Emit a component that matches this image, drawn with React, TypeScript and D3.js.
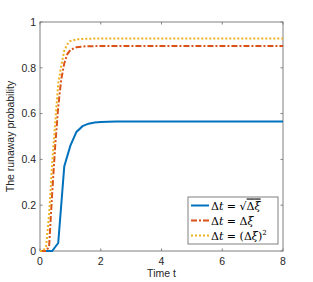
import React from 'react';
import * as d3 from 'd3';

// runaway probability vs time, three step choices
const tSqrt = [0, 0.2, 0.4, 0.6, 0.8, 1.0, 1.2, 1.4, 1.6, 1.8, 2.0, 2.5, 3.0, 4.0, 5.0, 6.0, 7.0, 8.0];
const pSqrt = [0, 0, 0, 0.035, 0.37, 0.46, 0.52, 0.545, 0.556, 0.561, 0.563, 0.565, 0.566, 0.566, 0.566, 0.566, 0.566, 0.566];

const tLin = [0, 0.1, 0.2, 0.3, 0.4, 0.5, 0.6, 0.7, 0.8, 0.9, 1.0, 1.2, 1.5, 2.0, 3.0, 4.0, 5.0, 6.0, 7.0, 8.0];
const pLin = [0, 0, 0, 0.02, 0.25, 0.46, 0.63, 0.75, 0.82, 0.86, 0.878, 0.89, 0.894, 0.895, 0.895, 0.895, 0.895, 0.895, 0.895, 0.895];

const tSq = [0, 0.1, 0.2, 0.3, 0.4, 0.5, 0.6, 0.7, 0.8, 0.9, 1.0, 1.2, 1.5, 2.0, 3.0, 4.0, 5.0, 6.0, 7.0, 8.0];
const pSq = [0, 0, 0.02, 0.16, 0.38, 0.56, 0.73, 0.81, 0.875, 0.903, 0.917, 0.924, 0.927, 0.928, 0.928, 0.928, 0.928, 0.928, 0.928, 0.928];

const xTicks = [0, 2, 4, 6, 8];
const yTicks = [0, 0.2, 0.4, 0.6, 0.8, 1];

const width = 313;
const height = 282;
const margin = { top: 22, right: 30, bottom: 31, left: 40 };

const App: React.FC = () => {
  const x = d3.scaleLinear().domain([0, 8]).range([margin.left, width - margin.right]);
  const y = d3.scaleLinear().domain([0, 1]).range([height - margin.bottom, margin.top]);

  const line = d3.line<[number, number]>()
    .x(d => x(d[0]))
    .y(d => y(d[1]));

  const zip = (a: number[], b: number[]) => a.map((v, i) => [v, b[i]] as [number, number]);

  const series = [
    { name: 'sqrt', d: zip(tSqrt, pSqrt), color: '#0072BD', dash: undefined as string | undefined },
    { name: 'lin', d: zip(tLin, pLin), color: '#D95319', dash: '6,2,2,2' },
    { name: 'sq', d: zip(tSq, pSq), color: '#EDB120', dash: '2,2' },
  ];

  const axisColor = '#808080';
  const x0 = x(0), x1 = x(8), y0 = y(0), y1 = y(1);
  const tickLen = 2.5;
  const sans = 'Liberation Sans, Arial, sans-serif';

  // legend box
  const lg = { x: 188, y: 197, w: 90, h: 47 };
  const rowY = [205.5, 220.5, 235.5];

  return (
    <svg width={width} height={height} style={{ position: 'absolute', left: 0, top: 0, background: '#fff' }}>
      <rect x={0} y={0} width={width} height={height} fill="#fff" />

      {/* axis box */}
      <rect x={x0} y={y1} width={x1 - x0} height={y0 - y1} fill="none" stroke={axisColor} strokeWidth={1} />

      {xTicks.map(t => (
        <g key={'x' + t}>
          <line x1={x(t)} x2={x(t)} y1={y0} y2={y0 - tickLen} stroke={axisColor} />
          <line x1={x(t)} x2={x(t)} y1={y1} y2={y1 + tickLen} stroke={axisColor} />
          <text x={x(t)} y={y0 + 14} textAnchor="middle" fontFamily={sans} fontSize={10.5} fill="#262626">{t}</text>
        </g>
      ))}
      {yTicks.map(t => (
        <g key={'y' + t}>
          <line x1={x0} x2={x0 + tickLen} y1={y(t)} y2={y(t)} stroke={axisColor} />
          <line x1={x1} x2={x1 - tickLen} y1={y(t)} y2={y(t)} stroke={axisColor} />
          <text x={x0 - 4} y={y(t) + 3.8} textAnchor="end" fontFamily={sans} fontSize={10.5} fill="#262626">{t}</text>
        </g>
      ))}

      <text x={(x0 + x1) / 2} y={height - 5} textAnchor="middle" fontFamily={sans} fontSize={10.5} fill="#262626">Time t</text>
      <text transform={`translate(14,${(y0 + y1) / 2}) rotate(-90)`} textAnchor="middle" fontFamily={sans} fontSize={10.5} fill="#262626">The runaway probability</text>

      <defs>
        <clipPath id="plotclip">
          <rect x={x0} y={y1} width={x1 - x0} height={y0 - y1 + 2} />
        </clipPath>
      </defs>
      <g clipPath="url(#plotclip)">
        {series.map(s => (
          <path key={s.name} d={line(s.d) || ''} fill="none" stroke={s.color} strokeWidth={2} strokeDasharray={s.dash} />
        ))}
      </g>

      {/* legend */}
      <rect x={lg.x} y={lg.y} width={lg.w} height={lg.h} fill="#fff" stroke={axisColor} strokeWidth={1} />
      {series.map((s, i) => (
        <line key={'lg' + s.name} x1={lg.x + 3} x2={lg.x + 21} y1={rowY[i]} y2={rowY[i]} stroke={s.color} strokeWidth={2} strokeDasharray={s.dash} />
      ))}
      <g fontFamily="DejaVu Serif, Liberation Serif, serif" fontSize={11} fill="#000">
        <text x={lg.x + 23} y={rowY[0] + 4}>
          <tspan>Δ</tspan><tspan fontStyle="italic">t</tspan><tspan> = √</tspan>
          <tspan style={{ textDecoration: 'overline' }}>Δ<tspan fontStyle="italic">ξ</tspan></tspan>
        </text>
        <text x={lg.x + 23} y={rowY[1] + 4}>
          <tspan>Δ</tspan><tspan fontStyle="italic">t</tspan><tspan> = Δ</tspan><tspan fontStyle="italic">ξ</tspan>
        </text>
        <text x={lg.x + 23} y={rowY[2] + 4}>
          <tspan>Δ</tspan><tspan fontStyle="italic">t</tspan><tspan> = (Δ</tspan><tspan fontStyle="italic">ξ</tspan><tspan>)</tspan><tspan fontSize={7} dy={-5}>2</tspan>
        </text>
      </g>
    </svg>
  );
};

export default App;
